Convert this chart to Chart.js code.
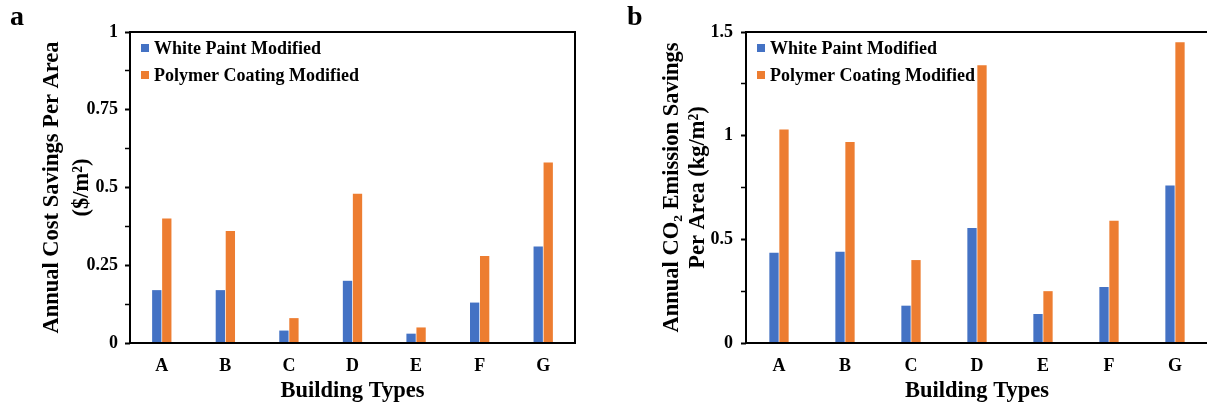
<!DOCTYPE html>
<html>
<head>
<meta charset="utf-8">
<script src="https://cdn.jsdelivr.net/npm/chart.js@4"></script>
<style>
	html, body { margin: 0; padding: 0; background: #fff; overflow: hidden; width: 1207px; height: 411px; }
	.panel { position: absolute; top: 0; height: 411px; }
	.tag { position: absolute; top: 2px; font: bold 28px 'Liberation Serif', serif; line-height: 28px; color: #000; }
</style>
</head>
<body>
<div class="panel" style="left:0; width:600px;"><canvas id="chartA" width="600" height="411"></canvas></div>
<div class="panel" style="left:600px; width:620px;"><canvas id="chartB" width="620" height="411"></canvas></div>
<div class="tag" style="left:10px;">a</div>
<div class="tag" style="left:627px;">b</div>

<script>
// building types on the x axis
var buildings = ['A', 'B', 'C', 'D', 'E', 'F', 'G'];
var seriesNames = ['White Paint Modified', 'Polymer Coating Modified'];

// panel a: annual cost savings per area ($/m2)
var costWhite = [0.17, 0.17, 0.04, 0.20, 0.03, 0.13, 0.31];
var costPolymer = [0.40, 0.36, 0.08, 0.48, 0.05, 0.28, 0.58];

// panel b: annual CO2 emission savings per area (kg/m2)
var co2White = [0.435, 0.44, 0.18, 0.555, 0.14, 0.27, 0.76];
var co2Polymer = [1.03, 0.97, 0.40, 1.34, 0.25, 0.59, 1.45];

var blue = '#4472C4';
var orange = '#ED7D31';
var serif = "'Liberation Serif', 'Times New Roman', serif";

// box round the plot area
var frame = {
	id: 'frame',
	afterDraw: function(chart) {
		var a = chart.chartArea;
		var ctx = chart.ctx;
		ctx.save();
		ctx.strokeStyle = '#000';
		ctx.lineWidth = 2;
		ctx.strokeRect(a.left, a.top, a.right - a.left, a.bottom - a.top);
		ctx.restore();
	}
};

// legend sits inside the plot, top left
var innerLegend = {
	id: 'innerLegend',
	afterDraw: function(chart) {
		var a = chart.chartArea;
		var ctx = chart.ctx;
		ctx.save();
		ctx.font = 'bold 18px ' + serif;
		ctx.textBaseline = 'middle';
		chart.data.datasets.forEach(function(ds, i) {
			var y = a.top + 16 + i * 27;
			ctx.fillStyle = ds.backgroundColor;
			ctx.fillRect(a.left + 11, y - 4, 8, 8);
			ctx.fillStyle = '#000';
			ctx.fillText(ds.label, a.left + 24, y + 1);
		});
		ctx.restore();
	}
};

function isMajor(v, major) {
	var k = v / major;
	return Math.abs(k - Math.round(k)) < 1e-6;
}

function makeChart(id, white, polymer, opts) {
	var ctx = document.getElementById(id);
	return new Chart(ctx, {
		type: 'bar',
		data: {
			labels: buildings,
			datasets: [{
				label: seriesNames[0],
				data: white,
				backgroundColor: blue,
				borderWidth: 0,
				categoryPercentage: opts.catPct,
				barPercentage: 0.93
			}, {
				label: seriesNames[1],
				data: polymer,
				backgroundColor: orange,
				borderWidth: 0,
				categoryPercentage: opts.catPct,
				barPercentage: 0.93
			}]
		},
		options: {
			responsive: false,
			animation: false,
			layout: { padding: { top: 32, right: opts.padRight, bottom: 0, left: 0 } },
			plugins: {
				legend: { display: false },
				tooltip: { enabled: false }
			},
			scales: {
				x: {
					grid: { display: false, drawTicks: false },
					border: { display: false },
					ticks: { color: '#000', padding: 13, font: { family: serif, size: 18, weight: 'bold' } },
					title: {
						display: true,
						text: 'Building Types',
						color: '#000',
						padding: { top: 0, bottom: 6 },
						font: { family: serif, size: 22.5, weight: 'bold' }
					},
					afterFit: function(scale) { scale.height = 68; }
				},
				y: {
					min: 0,
					max: opts.max,
					border: { display: false },
					grid: {
						display: true, drawOnChartArea: false, drawTicks: true, tickLength: 5, color: '#000',
						tickWidth: function(c) { return c.tick && isMajor(c.tick.value, opts.major) ? 2 : 1.5; }
					},
					ticks: {
						stepSize: opts.minor,
						color: '#000',
						padding: opts.tickPad,
						font: { family: serif, size: 18, weight: 'bold' },
						callback: function(v) {
							if (isMajor(v, opts.major)) return String(Math.round(v * 1000) / 1000);
							return '';
						}
					},
					title: {
						display: true,
						text: opts.title,
						color: '#000',
						padding: { top: opts.titleTop, bottom: 0 },
						font: { family: serif, size: 22.5, weight: 'bold', lineHeight: opts.titleLH }
					},
					afterFit: function(scale) { scale.width = opts.axisWidth; }
				}
			}
		},
		plugins: [frame, innerLegend]
	});
}

makeChart('chartA', costWhite, costPolymer, {
	max: 1, minor: 0.125, major: 0.25,
	catPct: 0.315, padRight: 25, axisWidth: 130, tickPad: 7,
	title: ['Annual Cost Savings Per Area', '($/m\u00B2)'], titleTop: 37, titleLH: 1.33
});

makeChart('chartB', co2White, co2Polymer, {
	max: 1.5, minor: 0.25, major: 0.5,
	catPct: 0.303, padRight: 12, axisWidth: 146, tickPad: 8,
	title: ['Annual CO\u2082 Emission Savings', 'Per Area (kg/m\u00B2)'], titleTop: 59, titleLH: 1.16
});
</script>
</body>
</html>
